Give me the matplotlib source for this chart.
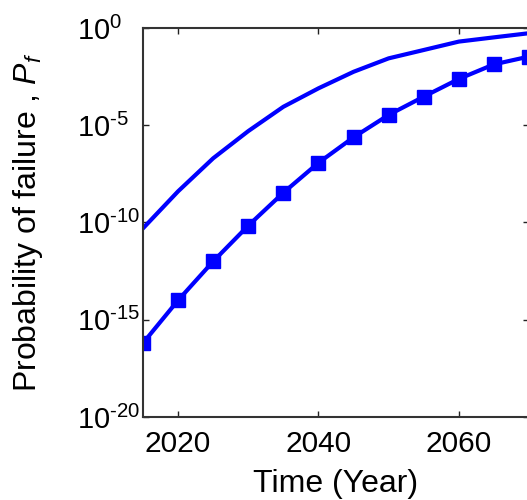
import matplotlib
matplotlib.use("Agg")
import matplotlib.pyplot as plt
from matplotlib.ticker import FixedLocator, FixedFormatter, NullLocator

plt.rcParams.update({
    "font.family": "Liberation Sans",
    "mathtext.fontset": "custom",
    "mathtext.rm": "Liberation Sans",
    "mathtext.it": "Liberation Sans:italic",
    "axes.unicode_minus": False,
})

BLUE = "#0000FF"

# failure probability, every 5 years
years = [2015, 2020, 2025, 2030, 2035, 2040, 2045, 2050, 2055, 2060, 2065, 2070]
pf_upper = [5.0e-11, 4.0e-9, 2.0e-7, 5.0e-6, 8.9e-5, 7.9e-4, 5.6e-3, 2.75e-2,
            7.4e-2, 0.20, 0.33, 0.54]
pf_marked = [6.3e-17, 1.0e-14, 1.0e-12, 6.9e-11, 3.4e-9, 1.17e-7, 2.4e-6, 3.4e-5,
             2.95e-4, 2.4e-3, 1.35e-2, 3.4e-2]

ytick_vals = [1e-20, 1e-15, 1e-10, 1e-5, 1e0]
ytick_exps = ["\u201020", "\u201015", "\u201010", "\u20105", "0"]
xtick_vals = [2020, 2040, 2060]

ytick_labels = [r"$\mathregular{10^{%s}}$" % e for e in ytick_exps]

fig = plt.figure(figsize=(5.27, 5.0), dpi=100)
ax = fig.add_axes([0.2713, 0.166, 0.7325, 0.778])

ax.semilogy(years, pf_upper, color=BLUE, linewidth=3)
ax.semilogy(years, pf_marked, color=BLUE, linewidth=3, marker="s",
            markersize=10, markeredgewidth=1)

ax.set_xlim(2015, 2070)
ax.set_ylim(1e-20, 1e0)
ax.set_xticks(xtick_vals)
ax.xaxis.set_minor_locator(NullLocator())
ax.yaxis.set_major_locator(FixedLocator(ytick_vals))
ax.yaxis.set_major_formatter(FixedFormatter(ytick_labels))
ax.yaxis.set_minor_locator(NullLocator())

ax.tick_params(direction="in", length=4, width=1, top=True, right=True,
               colors="#222222", labelcolor="black")
ax.tick_params(axis="x", pad=9, labelsize=21.5)
# y labels are left-aligned in a column, like MATLAB does it
ax.tick_params(axis="y", pad=47.5, labelsize=21)
plt.setp(ax.get_yticklabels(), ha="left")
for s in ax.spines.values():
    s.set_linewidth(1.5)
    s.set_color("#333333")

ax.set_xlabel("Time (Year)", fontsize=23, labelpad=8)
ax.set_ylabel(r"Probability of failure , $P_f$", fontsize=23, labelpad=23)

fig.savefig("out.png", dpi=100)
